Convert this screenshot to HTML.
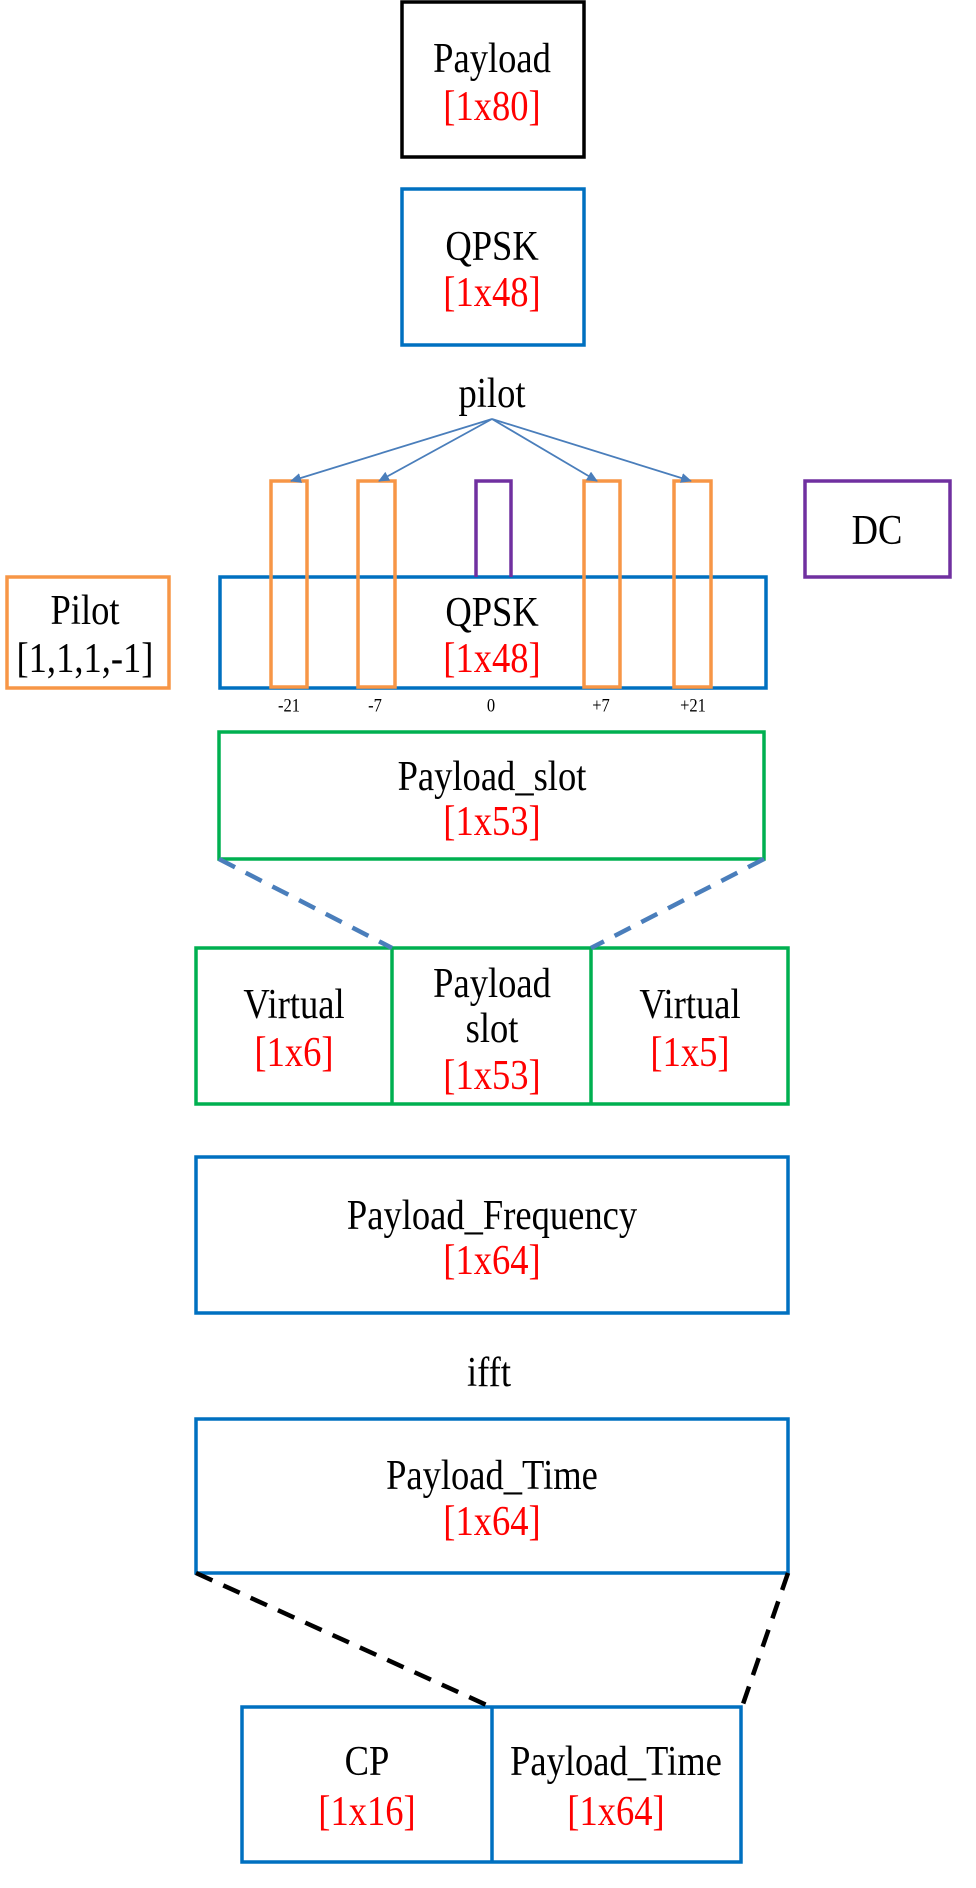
<!DOCTYPE html>
<html><head><meta charset="utf-8"><style>
html,body{margin:0;padding:0;background:#fff;}
svg{display:block}
text{font-family:"Liberation Serif",serif;font-size:42px;text-anchor:middle;dominant-baseline:central;fill:#000;transform-box:fill-box;transform-origin:center;transform:scaleX(0.87)}
.r{fill:#FF0000}
.s{font-size:19px}
</style></head><body>
<svg width="976" height="1888" viewBox="0 0 976 1888" xmlns="http://www.w3.org/2000/svg">
<defs><marker id="a" markerWidth="11" markerHeight="10" refX="10" refY="5" orient="auto" markerUnits="userSpaceOnUse"><path d="M0,0 L11,5 L0,10 z" fill="#4A7EBB"/></marker></defs>
<g fill="none" stroke-width="3.5">
<rect x="402" y="2" width="182" height="155" stroke="#000"/>
<rect x="402" y="189" width="182" height="156" stroke="#0070C0"/>
<rect x="220" y="577" width="546" height="111" stroke="#0070C0"/>
<rect x="7" y="577" width="162" height="111" stroke="#F79646"/>
<rect x="271" y="481" width="36" height="206" stroke="#F79646"/>
<rect x="358" y="481" width="37" height="206" stroke="#F79646"/>
<rect x="584" y="481" width="36" height="206" stroke="#F79646"/>
<rect x="674" y="481" width="37" height="206" stroke="#F79646"/>
<path d="M476,577 V481 H511 V577" stroke="#7030A0"/>
<rect x="805" y="481" width="145" height="96" stroke="#7030A0"/>
<rect x="219" y="732" width="545" height="127" stroke="#00B050"/>
<rect x="196" y="948" width="592" height="156" stroke="#00B050"/>
<line x1="392" y1="948" x2="392" y2="1104" stroke="#00B050"/>
<line x1="591" y1="948" x2="591" y2="1104" stroke="#00B050"/>
<rect x="196" y="1157" width="592" height="156" stroke="#0070C0"/>
<rect x="196" y="1419" width="592" height="154" stroke="#0070C0"/>
<rect x="242" y="1707" width="499" height="155" stroke="#0070C0"/>
<line x1="492" y1="1707" x2="492" y2="1862" stroke="#0070C0"/>
<line x1="219" y1="859" x2="392" y2="948" stroke="#4A7EBB" stroke-width="4.5" stroke-dasharray="18,12"/>
<line x1="764" y1="859" x2="591" y2="948" stroke="#4A7EBB" stroke-width="4.5" stroke-dasharray="18,12"/>
<line x1="196" y1="1573" x2="491" y2="1707" stroke="#000" stroke-width="4.5" stroke-dasharray="18,12"/>
<line x1="788" y1="1573" x2="742" y2="1707" stroke="#000" stroke-width="4.5" stroke-dasharray="18,12"/>
<g stroke="#4A7EBB" stroke-width="1.8">
<line x1="492" y1="419" x2="291" y2="481" marker-end="url(#a)"/>
<line x1="492" y1="419" x2="379" y2="481" marker-end="url(#a)"/>
<line x1="492" y1="419" x2="597" y2="481" marker-end="url(#a)"/>
<line x1="492" y1="419" x2="691" y2="481" marker-end="url(#a)"/>
</g>
</g>
<text x="492" y="58">Payload</text><text class="r" x="492" y="106">[1x80]</text>
<text x="492" y="246">QPSK</text><text class="r" x="492" y="292">[1x48]</text>
<text x="492" y="393">pilot</text>
<text x="877" y="530">DC</text>
<text x="492" y="612">QPSK</text><text class="r" x="492" y="658">[1x48]</text>
<text x="85" y="610">Pilot</text><text x="85" y="658">[1,1,1,-1]</text>
<text class="s" x="289" y="705">-21</text><text class="s" x="375" y="705">-7</text><text class="s" x="491" y="705">0</text><text class="s" x="601" y="705">+7</text><text class="s" x="693" y="705">+21</text>
<text x="492" y="776">Payload_slot</text><text class="r" x="492" y="821">[1x53]</text>
<text x="294" y="1004">Virtual</text><text class="r" x="294" y="1052">[1x6]</text>
<text x="492" y="983">Payload</text><text x="492" y="1028">slot</text><text class="r" x="492" y="1075">[1x53]</text>
<text x="690" y="1004">Virtual</text><text class="r" x="690" y="1052">[1x5]</text>
<text x="492" y="1215">Payload_Frequency</text><text class="r" x="492" y="1260">[1x64]</text>
<text x="489" y="1372">ifft</text>
<text x="492" y="1475">Payload_Time</text><text class="r" x="492" y="1521">[1x64]</text>
<text x="367" y="1761">CP</text><text class="r" x="367" y="1811">[1x16]</text>
<text x="616" y="1761">Payload_Time</text><text class="r" x="616" y="1811">[1x64]</text>
</svg>
</body></html>
